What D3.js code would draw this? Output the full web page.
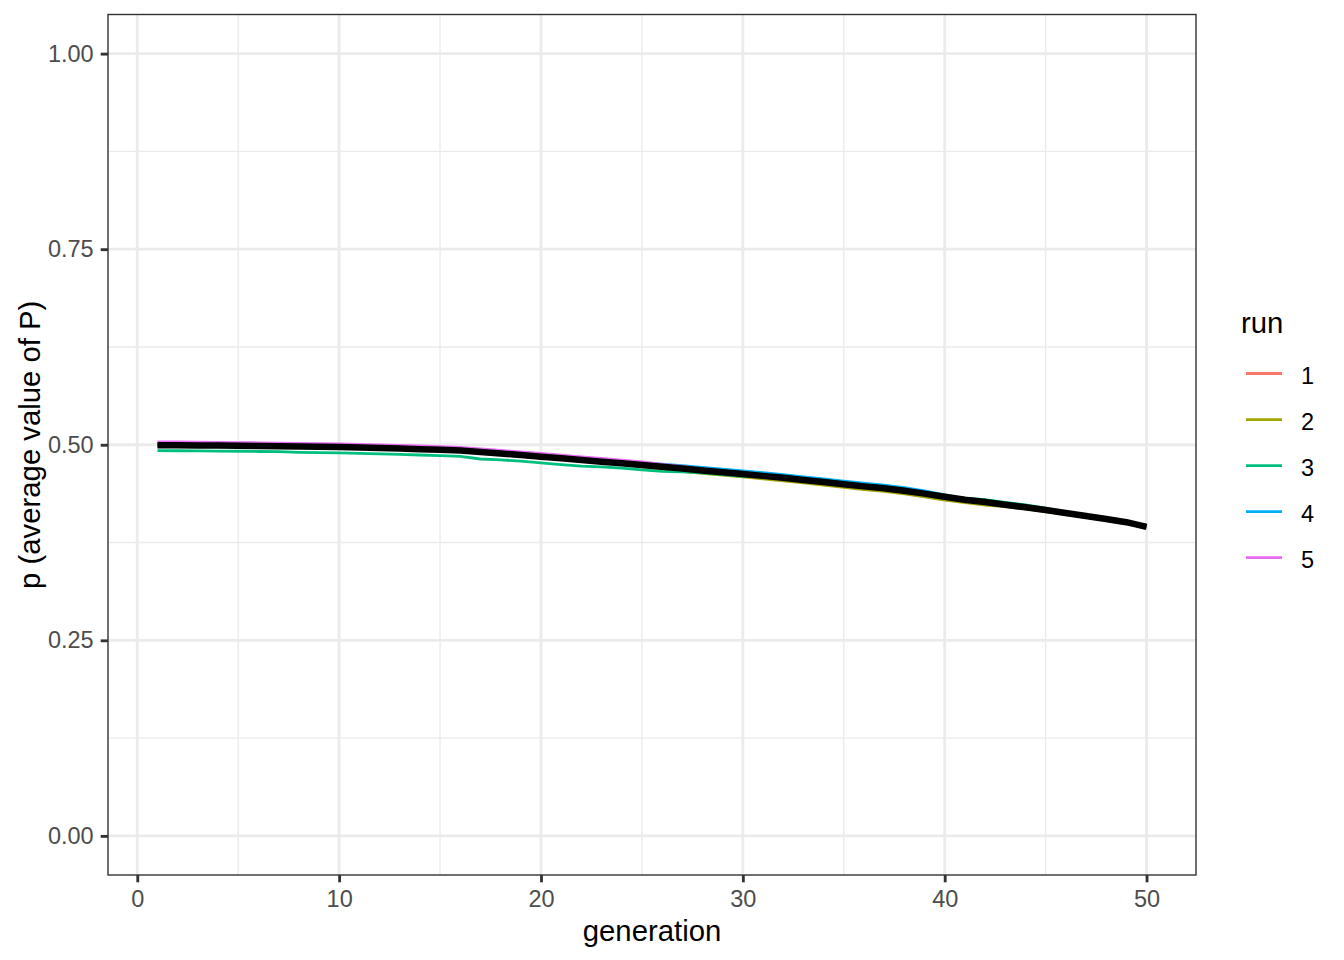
<!DOCTYPE html>
<html><head><meta charset="utf-8">
<script src="https://cdn.jsdelivr.net/npm/d3@7"></script>
<style>body{margin:0;background:#fff;} svg{display:block;font-family:"Liberation Sans",Arial,sans-serif;}</style>
</head><body>
<script>
const generations = d3.range(1, 51);
const runNames = ["1","2","3","4","5"];
const runColors = ["#F8766D","#A3A500","#00BF7D","#00B0F6","#E76BF3"];
const run1 = [0.5000,0.4998,0.4996,0.4994,0.4992,0.4989,0.4986,0.4983,0.4979,0.4975,0.4969,0.4963,0.4956,0.4949,0.4941,0.4931,0.4913,0.4893,0.4875,0.4853,0.4831,0.4810,0.4789,0.4768,0.4745,0.4723,0.4701,0.4677,0.4654,0.4631,0.4607,0.4582,0.4555,0.4528,0.4501,0.4473,0.4448,0.4417,0.4380,0.4340,0.4303,0.4273,0.4238,0.4205,0.4170,0.4133,0.4095,0.4055,0.4015,0.3965];
const run2 = [0.4985,0.4983,0.4981,0.4979,0.4977,0.4974,0.4971,0.4968,0.4964,0.4960,0.4954,0.4948,0.4941,0.4934,0.4926,0.4916,0.4898,0.4878,0.4860,0.4838,0.4816,0.4795,0.4774,0.4748,0.4720,0.4688,0.4661,0.4635,0.4611,0.4588,0.4565,0.4540,0.4512,0.4483,0.4455,0.4428,0.4403,0.4372,0.4333,0.4293,0.4260,0.4230,0.4210,0.4180,0.4145,0.4108,0.4072,0.4033,0.3995,0.3945];
const run3 = [0.4925,0.4923,0.4921,0.4919,0.4917,0.4914,0.4911,0.4903,0.4899,0.4895,0.4889,0.4883,0.4876,0.4869,0.4861,0.4851,0.4818,0.4806,0.4790,0.4768,0.4746,0.4728,0.4718,0.4700,0.4680,0.4660,0.4655,0.4640,0.4619,0.4596,0.4590,0.4567,0.4540,0.4513,0.4486,0.4458,0.4433,0.4402,0.4380,0.4345,0.4318,0.4298,0.4263,0.4230,0.4190,0.4138,0.4100,0.4060,0.4020,0.3970];
const run4 = [0.5005,0.5003,0.5001,0.4999,0.4997,0.4994,0.4991,0.4988,0.4984,0.4980,0.4974,0.4968,0.4961,0.4954,0.4946,0.4936,0.4928,0.4908,0.4890,0.4868,0.4846,0.4825,0.4804,0.4788,0.4770,0.4753,0.4734,0.4712,0.4689,0.4666,0.4642,0.4617,0.4590,0.4563,0.4536,0.4508,0.4483,0.4452,0.4410,0.4360,0.4308,0.4270,0.4233,0.4200,0.4165,0.4128,0.4090,0.4050,0.4010,0.3960];
const run5 = [0.5038,0.5036,0.5034,0.5031,0.5028,0.5025,0.5022,0.5018,0.5014,0.5010,0.5004,0.4998,0.4991,0.4984,0.4976,0.4966,0.4948,0.4928,0.4910,0.4888,0.4866,0.4845,0.4824,0.4803,0.4780,0.4748,0.4722,0.4692,0.4662,0.4636,0.4607,0.4580,0.4552,0.4524,0.4496,0.4468,0.4443,0.4412,0.4375,0.4335,0.4288,0.4258,0.4223,0.4190,0.4155,0.4112,0.4072,0.4030,0.3990,0.3940];
const meanP = [0.4995,0.4993,0.4991,0.4989,0.4987,0.4984,0.4981,0.4978,0.4974,0.4970,0.4964,0.4958,0.4951,0.4944,0.4936,0.4926,0.4908,0.4888,0.4870,0.4848,0.4826,0.4805,0.4784,0.4763,0.4740,0.4718,0.4696,0.4672,0.4649,0.4626,0.4602,0.4577,0.4550,0.4523,0.4496,0.4468,0.4443,0.4412,0.4375,0.4335,0.4298,0.4268,0.4233,0.4200,0.4165,0.4128,0.4090,0.4050,0.4010,0.3950];
const runs = [run1, run2, run3, run4, run5];
const xTicks = [0,10,20,30,40,50];
const xMinor = [5,15,25,35,45];
const yTicks = [0,0.25,0.5,0.75,1];
const yMinor = [0.125,0.375,0.625,0.875];

const W = 1344, H = 960;
const pl = 108, pr = 1196, pt = 14.5, pb = 875;
const svg = d3.select("body").append("svg").attr("width", W).attr("height", H);
const x = d3.scaleLinear().domain([1 - 0.05*49, 50 + 0.05*49]).range([pl, pr]);
const y = d3.scaleLinear().domain([-0.05, 1.05]).range([pb, pt]);

const g = svg.append("g");
// minor grid
g.selectAll(".xm").data(xMinor).join("line").attr("x1", d=>x(d)).attr("x2", d=>x(d)).attr("y1", pt).attr("y2", pb).attr("stroke", "#EBEBEB").attr("stroke-width", 1.42);
g.selectAll(".ym").data(yMinor).join("line").attr("y1", d=>y(d)).attr("y2", d=>y(d)).attr("x1", pl).attr("x2", pr).attr("stroke", "#EBEBEB").attr("stroke-width", 1.42);
// major grid
g.selectAll(".xM").data(xTicks).join("line").attr("x1", d=>x(d)).attr("x2", d=>x(d)).attr("y1", pt).attr("y2", pb).attr("stroke", "#EBEBEB").attr("stroke-width", 2.85);
g.selectAll(".yM").data(yTicks).join("line").attr("y1", d=>y(d)).attr("y2", d=>y(d)).attr("x1", pl).attr("x2", pr).attr("stroke", "#EBEBEB").attr("stroke-width", 2.85);

const line = d3.line().x((d,i)=>x(generations[i])).y(d=>y(d));
runs.forEach((r, k) => {
  g.append("path").attr("d", line(r)).attr("fill", "none").attr("stroke", runColors[k]).attr("stroke-width", 2.8).attr("stroke-linejoin", "round");
});
g.append("path").attr("d", line(meanP)).attr("fill", "none").attr("stroke", "#000").attr("stroke-width", 6.5).attr("stroke-linejoin", "round");

// border
svg.append("rect").attr("x", pl).attr("y", pt).attr("width", pr-pl).attr("height", pb-pt).attr("fill", "none").attr("stroke", "#333333").attr("stroke-width", 1.4);

// axes
const xAxis = d3.axisBottom(x).tickValues(xTicks).tickSize(7.3).tickPadding(7.7).tickFormat(d3.format("d"));
const yAxis = d3.axisLeft(y).tickValues(yTicks).tickSize(7.3).tickPadding(7).tickFormat(d3.format(".2f"));
const xa = svg.append("g").attr("transform", `translate(0,${pb})`).call(xAxis);
const ya = svg.append("g").attr("transform", `translate(${pl},0)`).call(yAxis);
[xa, ya].forEach(a => {
  a.select(".domain").remove();
  a.selectAll(".tick line").attr("stroke", "#333333").attr("stroke-width", 2.85);
  a.selectAll(".tick text").attr("fill", "#4D4D4D").attr("font-size", 23.5).attr("font-family", "Liberation Sans, Arial, sans-serif");
});

svg.append("text").attr("x", (pl+pr)/2).attr("y", 941).attr("text-anchor", "middle").attr("font-size", 29.3).attr("fill", "#000").text("generation");
svg.append("text").attr("transform", `translate(40,${(pt+pb)/2}) rotate(-90)`).attr("text-anchor", "middle").attr("font-size", 29.3).attr("fill", "#000").text("p (average value of P)");

// legend
const lg = svg.append("g");
lg.append("text").attr("x", 1241).attr("y", 333).attr("font-size", 29.3).attr("fill", "#000").text("run");
const ly = d3.scalePoint().domain(runNames).range([373.5, 557.7]);
runNames.forEach((n, k) => {
  lg.append("line").attr("x1", 1246).attr("x2", 1282).attr("y1", ly(n)).attr("y2", ly(n)).attr("stroke", runColors[k]).attr("stroke-width", 2.8);
  lg.append("text").attr("x", 1301).attr("y", ly(n)).attr("dy", "0.43em").attr("font-size", 23.5).attr("fill", "#000").text(n);
});
</script>
</body></html>
